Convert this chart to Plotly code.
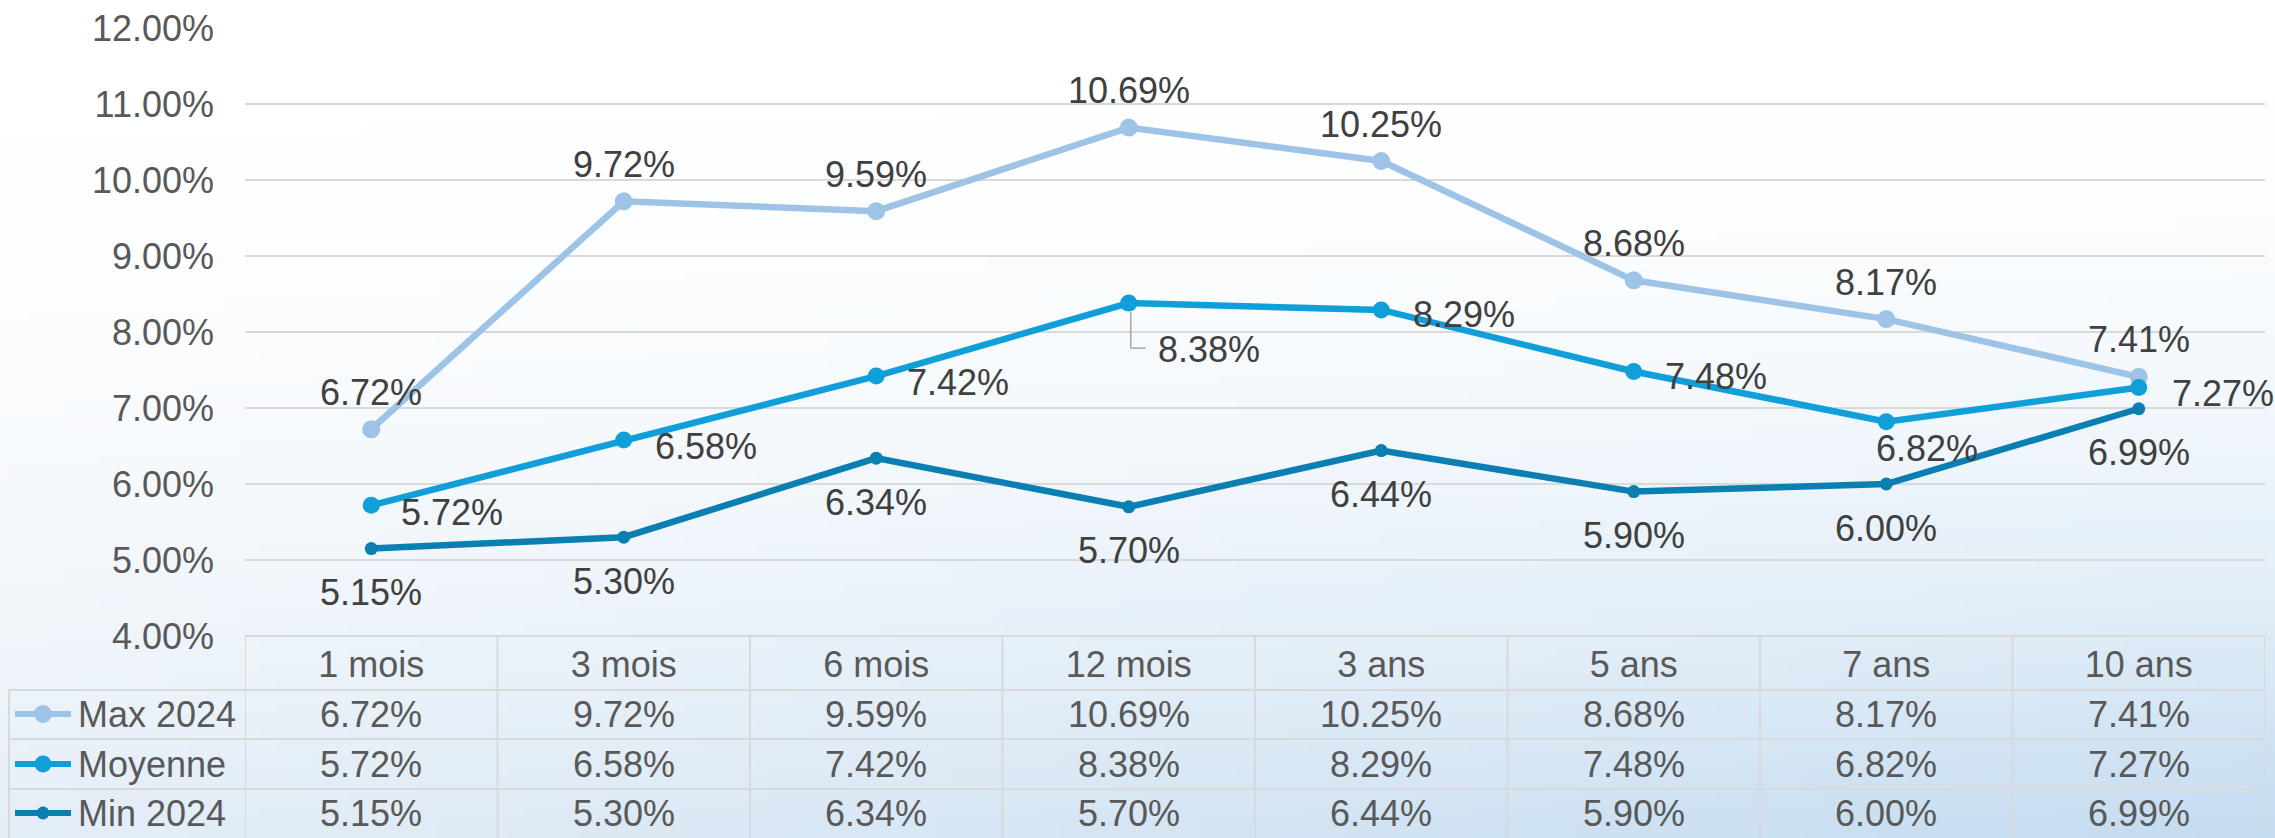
import base64
import struct
import zlib

import plotly.graph_objects as go

W, H = 2275, 838

categories = ["1 mois", "3 mois", "6 mois", "12 mois", "3 ans", "5 ans", "7 ans", "10 ans"]
max_2024 = [6.72, 9.72, 9.59, 10.69, 10.25, 8.68, 8.17, 7.41]
moyenne = [5.72, 6.58, 7.42, 8.38, 8.29, 7.48, 6.82, 7.27]
min_2024 = [5.15, 5.30, 6.34, 5.70, 6.44, 5.90, 6.00, 6.99]

series_names = ["Max 2024", "Moyenne", "Min 2024"]
series_values = [max_2024, moyenne, min_2024]
series_colors = ["#9DC3E6", "#109FD8", "#0B7FB1"]
marker_sizes = [18, 17, 13]

# offsets of the "Moyenne" labels (pixels), labels moved around in the original
moy_xshift = [28, 29, 29, 27, 30, 29, -12, 31]
moy_yshift = [-7, -7, -6, -46, -5, -5, -27, -6]

FONT = "Liberation Sans, Arial, sans-serif"
TXT = "#595959"
LBL = "#404040"
GRID = "#d9d9d9"


def px(x):
    return x / W


def py(y):
    return 1 - y / H


# light blue gradient background, built as a small png
def gradient_png(w=128, h=64):
    rows = []
    for j in range(h):
        fy = j / (h - 1)
        t = fy ** 2.0
        row = bytearray([0])
        for i in range(w):
            fx = i / (w - 1)
            blue = [a + (b - a) * fx for a, b in zip((229, 238, 247), (196, 220, 240))]
            c = [round(255 + (b - 255) * t) for b in blue]
            row += bytes(c)
        rows.append(bytes(row))
    raw = b"".join(rows)

    def chunk(tag, data):
        return struct.pack(">I", len(data)) + tag + data + struct.pack(">I", zlib.crc32(tag + data) & 0xFFFFFFFF)

    ihdr = struct.pack(">IIBBBBB", w, h, 8, 2, 0, 0, 0)
    png = b"\x89PNG\r\n\x1a\n" + chunk(b"IHDR", ihdr) + chunk(b"IDAT", zlib.compress(raw)) + chunk(b"IEND", b"")
    return "data:image/png;base64," + base64.b64encode(png).decode()


fig = go.Figure()

for name, vals, col, ms in zip(series_names, series_values, series_colors, marker_sizes):
    fig.add_trace(go.Scatter(
        x=categories, y=vals, name=name, mode="lines+markers",
        line=dict(color=col, width=6.5),
        marker=dict(color=col, size=ms),
        cliponaxis=False, showlegend=False,
    ))

annotations = []

# data labels
for c, v in zip(categories, max_2024):
    annotations.append(dict(x=c, y=v, xref="x", yref="y", text=f"{v:.2f}%", showarrow=False,
                            yanchor="middle", yshift=37, font=dict(size=36, color=LBL, family=FONT)))
for c, v in zip(categories, min_2024):
    annotations.append(dict(x=c, y=v, xref="x", yref="y", text=f"{v:.2f}%", showarrow=False,
                            yanchor="middle", yshift=-44, font=dict(size=36, color=LBL, family=FONT)))
for c, v, xs, ys in zip(categories, moyenne, moy_xshift, moy_yshift):
    annotations.append(dict(x=c, y=v, xref="x", yref="y", text=f"{v:.2f}%", showarrow=False,
                            xanchor="left", yanchor="middle", xshift=xs, yshift=ys,
                            font=dict(size=36, color=LBL, family=FONT)))

# data table below the chart
row_y = [714, 764, 813]
for vals, yc in zip(series_values, row_y):
    for c, v in zip(categories, vals):
        annotations.append(dict(x=c, y=py(yc), xref="x", yref="paper", text=f"{v:.2f}%",
                                xanchor="center", yanchor="middle",
                                showarrow=False, font=dict(size=36, color=TXT, family=FONT)))

for name, yc in zip(series_names, row_y):
    annotations.append(dict(x=px(76), y=py(yc), xref="paper", yref="paper", text=name,
                            xanchor="left", yanchor="middle",
                            showarrow=False, font=dict(size=36, color=TXT, family=FONT)))

shapes = []
line_style = dict(color=GRID, width=2)
# horizontal table lines
for yl in [690, 739, 789]:
    shapes.append(dict(type="line", xref="paper", yref="paper", x0=px(9), x1=px(2265),
                       y0=py(yl), y1=py(yl), line=line_style))
shapes.append(dict(type="line", xref="paper", yref="paper", x0=px(245), x1=px(2265),
                   y0=py(636), y1=py(636), line=line_style))
# vertical table lines
shapes.append(dict(type="line", xref="paper", yref="paper", x0=px(9), x1=px(9),
                   y0=py(690), y1=0, line=line_style))
for k in range(len(categories) + 1):
    shapes.append(dict(type="line", xref="x", yref="paper", x0=k - 0.5, x1=k - 0.5,
                       y0=py(636), y1=0, line=line_style))

# legend keys in the table
for col, ms, yc in zip(series_colors, marker_sizes, row_y):
    shapes.append(dict(type="line", xref="paper", yref="paper", x0=px(15), x1=px(71),
                       y0=py(yc), y1=py(yc), line=dict(color=col, width=6)))
    shapes.append(dict(type="circle", xref="paper", yref="paper", xsizemode="pixel", ysizemode="pixel",
                       xanchor=px(43), yanchor=py(yc), x0=-ms / 2, x1=ms / 2, y0=-ms / 2, y1=ms / 2,
                       fillcolor=col, line=dict(width=0)))

# elbow leader line of the 12 mois "Moyenne" label
shapes.append(dict(type="line", xref="x", yref="y", xsizemode="pixel", ysizemode="pixel",
                   xanchor=3, yanchor=moyenne[3], x0=2, x1=2, y0=-9, y1=-45,
                   line=dict(color="#a6a6a6", width=1.5)))
shapes.append(dict(type="line", xref="x", yref="y", xsizemode="pixel", ysizemode="pixel",
                   xanchor=3, yanchor=moyenne[3], x0=2, x1=17, y0=-45, y1=-45,
                   line=dict(color="#a6a6a6", width=1.5)))

fig.update_layout(
    width=W, height=H,
    margin=dict(l=0, r=0, t=0, b=0, pad=0),
    paper_bgcolor="white",
    plot_bgcolor="rgba(0,0,0,0)",
    font=dict(family=FONT, size=36, color=TXT),
    xaxis=dict(
        type="category", range=[-0.5, 7.5], domain=[px(245), px(2265)],
        showgrid=False, showline=False, zeroline=False, ticks="", automargin=False,
        tickfont=dict(size=36, color=TXT), ticklabelstandoff=4,
    ),
    yaxis=dict(
        range=[4, 12], dtick=1, tick0=4, domain=[py(636), py(28)],
        tickformat=".2f", ticksuffix="%", automargin=False,
        showgrid=True, gridcolor=GRID, gridwidth=2,
        zeroline=False, showline=False, ticks="",
        tickfont=dict(size=36, color=TXT), ticklabelstandoff=30,
    ),
    images=[dict(source=gradient_png(), xref="paper", yref="paper", x=0, y=1,
                 sizex=1, sizey=1, sizing="stretch", layer="below", xanchor="left", yanchor="top")],
    annotations=annotations,
    shapes=shapes,
)

# the page body has a default 8px margin; drop it so the figure fills the window
fig.write_html("out.html", config={"displayModeBar": False},
               post_script="document.body.style.margin='0';")
